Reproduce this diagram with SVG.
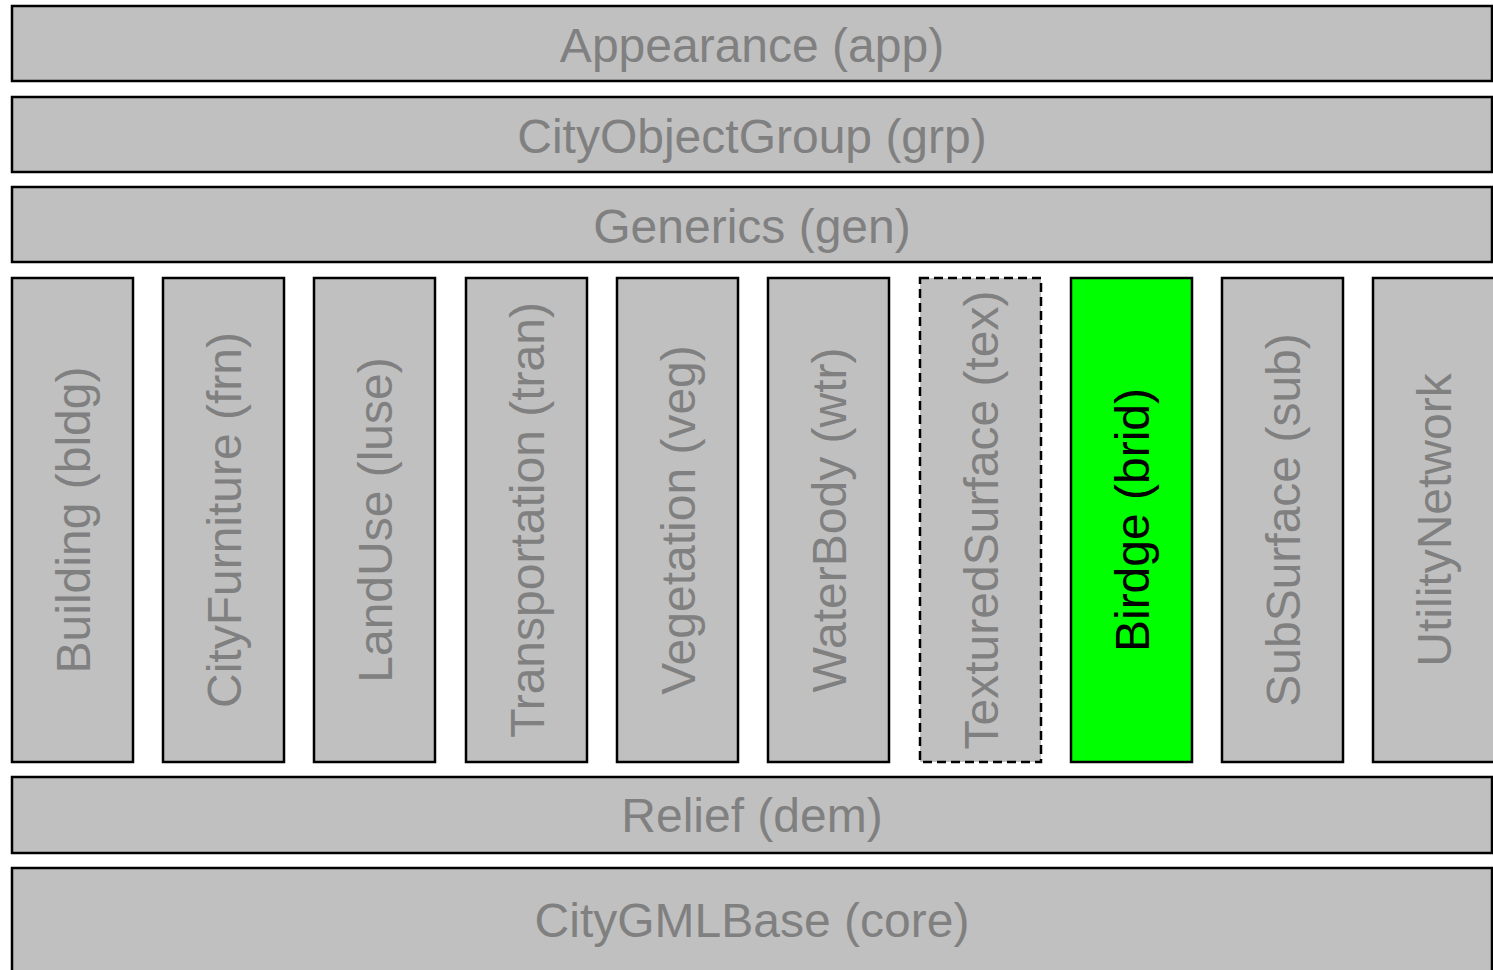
<svg xmlns="http://www.w3.org/2000/svg" width="1493" height="970" viewBox="0 0 1493 970">
<style>
.box{fill:#C0C0C0;stroke:#000;stroke-width:2.5}
.dash{stroke-dasharray:9 5}
.green{fill:#00FF00}
.t{font-family:"Liberation Sans",Arial,sans-serif;font-size:48px;fill:#808080;text-anchor:middle}
.dark{fill:#000}
</style>
<rect width="1493" height="970" fill="#fff"/>
<g id="app"><rect class="box" x="12" y="6" width="1480" height="75"/><text class="t" x="752" y="62">Appearance (app)</text></g>
<g id="grp"><rect class="box" x="12" y="97" width="1480" height="75"/><text class="t" x="752" y="153">CityObjectGroup (grp)</text></g>
<g id="gen"><rect class="box" x="12" y="187" width="1480" height="75"/><text class="t" x="752" y="243">Generics (gen)</text></g>
<g id="bldg"><rect class="box" x="12" y="278" width="121" height="484"/><text class="t" transform="translate(90 520) rotate(-90)">Building (bldg)</text></g>
<g id="frn"><rect class="box" x="163" y="278" width="121" height="484"/><text class="t" transform="translate(241 520) rotate(-90)">CityFurniture (frn)</text></g>
<g id="luse"><rect class="box" x="314" y="278" width="121" height="484"/><text class="t" transform="translate(392 520) rotate(-90)">LandUse (luse)</text></g>
<g id="tran"><rect class="box" x="466" y="278" width="121" height="484"/><text class="t" transform="translate(544 520) rotate(-90)">Transportation (tran)</text></g>
<g id="veg"><rect class="box" x="617" y="278" width="121" height="484"/><text class="t" transform="translate(695 520) rotate(-90)">Vegetation (veg)</text></g>
<g id="wtr"><rect class="box" x="768" y="278" width="121" height="484"/><text class="t" transform="translate(846 520) rotate(-90)">WaterBody (wtr)</text></g>
<g id="tex"><rect class="box dash" x="920" y="278" width="121" height="484"/><text class="t" transform="translate(998 520) rotate(-90)">TexturedSurface (tex)</text></g>
<g id="brid"><rect class="box green" x="1071" y="278" width="121" height="484"/><text class="t dark" transform="translate(1149 520) rotate(-90)">Birdge (brid)</text></g>
<g id="sub"><rect class="box" x="1222" y="278" width="121" height="484"/><text class="t" transform="translate(1300 520) rotate(-90)">SubSurface (sub)</text></g>
<g id="utility"><rect class="box" x="1373" y="278" width="125" height="484"/><text class="t" transform="translate(1451 520) rotate(-90)">UtilityNetwork</text></g>
<g id="dem"><rect class="box" x="12" y="777" width="1480" height="76"/><text class="t" x="752" y="832">Relief (dem)</text></g>
<g id="core"><rect class="box" x="12" y="868" width="1480" height="110"/><text class="t" x="752" y="937">CityGMLBase (core)</text></g>
<g id="connectors"/>
</svg>
